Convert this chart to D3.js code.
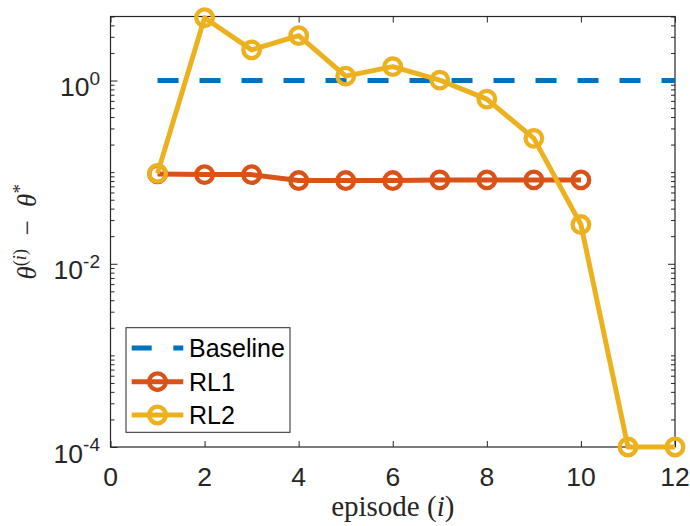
<!DOCTYPE html>
<html>
<head>
<meta charset="utf-8">
<script src="https://cdn.jsdelivr.net/npm/d3@7"></script>
<style>
  html, body { margin: 0; padding: 0; background: #fff; }
  svg { display: block; }
</style>
</head>
<body>
<div id="chart"></div>
<script>
// Parameter error per training episode (log scale)
const episodes = [1, 2, 3, 4, 5, 6, 7, 8, 9, 10, 11, 12];
const baselineEpisodes = [1, 12];
const baselineValues = [1, 1];
const rl1Episodes = [1, 2, 3, 4, 5, 6, 7, 8, 9, 10];
const rl1Values = [0.0957, 0.094, 0.094, 0.081, 0.081, 0.081, 0.0823, 0.0823, 0.0823, 0.0823];
const rl2Values = [0.097, 4.85, 2.16, 3.09, 1.116, 1.42, 1.01, 0.627, 0.234, 0.0268, 1e-4, 1e-4];
const xTicks = [0, 2, 4, 6, 8, 10, 12];
const yTicks = [1e-4, 1e-2, 1e0];
const yTickExponents = ["-4", "-2", "0"];
const legendLabels = ["Baseline", "RL1", "RL2"];

const W = 690, H = 526;
const plot = { left: 110.5, right: 675, top: 16.5, bottom: 447 };
const colors = { baseline: "#0072BD", rl1: "#D95319", rl2: "#EDB120" };
const axisColor = "#262626";
const lineW = 5, markerR = 8.3, markerW = 4.3;

const svg = d3.select("#chart").append("svg")
  .attr("width", W).attr("height", H)
  .attr("font-family", "'Liberation Sans', Arial, sans-serif");

const x = d3.scaleLinear().domain([0, 12]).range([plot.left, plot.right]);
const y = d3.scaleLog().domain([1e-4, 5]).range([plot.bottom, plot.top]);

// Minor ticks: every 1..9 × 10^k inside the domain, excluding labelled ones
const minorTicks = [];
for (let k = -4; k <= 0; k++) {
  for (let m = 1; m <= 9; m++) {
    const v = m * Math.pow(10, k);
    if (v > 5 + 1e-9) continue;
    if (yTicks.some(t => Math.abs(t - v) / v < 1e-9)) continue;
    minorTicks.push(v);
  }
}

const axesG = svg.append("g");

// Left & right y axes with inward ticks
const yLeft = d3.axisRight(y).tickValues(yTicks).tickSize(7).tickFormat("");
const yRight = d3.axisLeft(y).tickValues(yTicks).tickSize(7).tickFormat("");
const yLeftMinor = d3.axisRight(y).tickValues(minorTicks).tickSize(4).tickFormat("");
const yRightMinor = d3.axisLeft(y).tickValues(minorTicks).tickSize(4).tickFormat("");
axesG.append("g").attr("transform", `translate(${plot.left},0)`).call(yLeft);
axesG.append("g").attr("transform", `translate(${plot.left},0)`).call(yLeftMinor);
axesG.append("g").attr("transform", `translate(${plot.right},0)`).call(yRight);
axesG.append("g").attr("transform", `translate(${plot.right},0)`).call(yRightMinor);

// Bottom & top x axes with inward ticks
const xBottom = d3.axisTop(x).tickValues(xTicks).tickSize(6).tickFormat("");
const xTop = d3.axisBottom(x).tickValues(xTicks).tickSize(6).tickFormat("");
axesG.append("g").attr("transform", `translate(0,${plot.bottom})`).call(xBottom);
axesG.append("g").attr("transform", `translate(0,${plot.top})`).call(xTop);

axesG.selectAll(".domain").remove();
axesG.selectAll(".tick line").attr("stroke", axisColor).attr("stroke-width", 1);

// Box outline
axesG.append("rect")
  .attr("x", plot.left).attr("y", plot.top)
  .attr("width", plot.right - plot.left).attr("height", plot.bottom - plot.top)
  .attr("fill", "none").attr("stroke", axisColor).attr("stroke-width", 1.2);

// X tick labels
svg.append("g").selectAll("text").data(xTicks).join("text")
  .attr("x", d => x(d)).attr("y", 486)
  .attr("text-anchor", "middle")
  .attr("font-size", 26.5).attr("fill", axisColor)
  .text(d => d);

// Y tick labels: 10 with superscript exponent
const yl = svg.append("g").selectAll("text").data(yTicks).join("text")
  .attr("x", 100).attr("y", d => y(d) + 15.5)
  .attr("text-anchor", "end")
  .attr("font-size", 26.5).attr("fill", axisColor);
yl.append("tspan").text("10");
yl.append("tspan").attr("font-size", 19).attr("dy", -11.5)
  .text((d, i) => yTickExponents[i]);

// Axis titles
svg.append("text")
  .attr("x", (plot.left + plot.right) / 2).attr("y", 516)
  .attr("text-anchor", "middle")
  .attr("font-family", "'Liberation Serif', 'DejaVu Serif', serif")
  .attr("font-size", 29).attr("fill", axisColor)
  .call(t => {
    t.append("tspan").text("episode (");
    t.append("tspan").attr("font-style", "italic").text("i");
    t.append("tspan").text(")");
  });

const ylab = svg.append("text")
  .attr("transform", `translate(36,${(plot.top + plot.bottom) / 2}) rotate(-90)`)
  .attr("text-anchor", "middle")
  .attr("font-family", "'Liberation Serif', 'DejaVu Serif', serif")
  .attr("font-size", 27).attr("fill", axisColor);
ylab.append("tspan").attr("font-style", "italic").text("θ");
ylab.append("tspan").attr("font-size", 18).attr("dy", -10).text("(");
ylab.append("tspan").attr("font-size", 18).attr("font-style", "italic").text("i");
ylab.append("tspan").attr("font-size", 18).text(")");
ylab.append("tspan").attr("dy", 10).text("\u2002−\u2002");
ylab.append("tspan").attr("font-style", "italic").text("θ");
ylab.append("tspan").attr("font-size", 19).attr("dy", -10).text("*");

// Series
const line = d3.line().x(d => x(d[0])).y(d => y(d[1]));
const marks = svg.append("g");

const baselineData = baselineEpisodes.map((e, i) => [e, baselineValues[i]]);
marks.append("path").datum(baselineData)
  .attr("d", line).attr("fill", "none")
  .attr("stroke", colors.baseline).attr("stroke-width", 5)
  .attr("stroke-dasharray", "21,21");

function drawSeries(data, color) {
  const g = marks.append("g");
  g.append("path").datum(data)
    .attr("d", line).attr("fill", "none")
    .attr("stroke", color).attr("stroke-width", lineW)
    .attr("stroke-linejoin", "round");
  g.selectAll("circle").data(data).join("circle")
    .attr("cx", d => x(d[0])).attr("cy", d => y(d[1]))
    .attr("r", markerR).attr("fill", "none")
    .attr("stroke", color).attr("stroke-width", markerW);
}
drawSeries(rl1Episodes.map((e, i) => [e, rl1Values[i]]), colors.rl1);
drawSeries(episodes.map((e, i) => [e, rl2Values[i]]), colors.rl2);

// Legend
const legend = svg.append("g");
legend.append("rect")
  .attr("x", 126).attr("y", 327.7).attr("width", 164).attr("height", 104.6)
  .attr("fill", "#fff").attr("stroke", axisColor).attr("stroke-width", 1);
const legendRows = [
  { label: legendLabels[0], color: colors.baseline, dashed: true, marker: false },
  { label: legendLabels[1], color: colors.rl1, dashed: false, marker: true },
  { label: legendLabels[2], color: colors.rl2, dashed: false, marker: true }
];
const rowY = [348, 381.7, 415];
legendRows.forEach((r, i) => {
  const cy = rowY[i];
  legend.append("line")
    .attr("x1", 131.7).attr("x2", 183.3).attr("y1", cy).attr("y2", cy)
    .attr("stroke", r.color).attr("stroke-width", 5)
    .attr("stroke-dasharray", r.dashed ? "20,21.6" : null);
  if (r.marker) {
    legend.append("circle")
      .attr("cx", 157.5).attr("cy", cy).attr("r", markerR)
      .attr("fill", "none").attr("stroke", r.color).attr("stroke-width", markerW);
  }
  legend.append("text")
    .attr("x", 189).attr("y", cy + 9)
    .attr("font-size", 25).attr("fill", "#000")
    .text(r.label);
});
</script>
</body>
</html>
